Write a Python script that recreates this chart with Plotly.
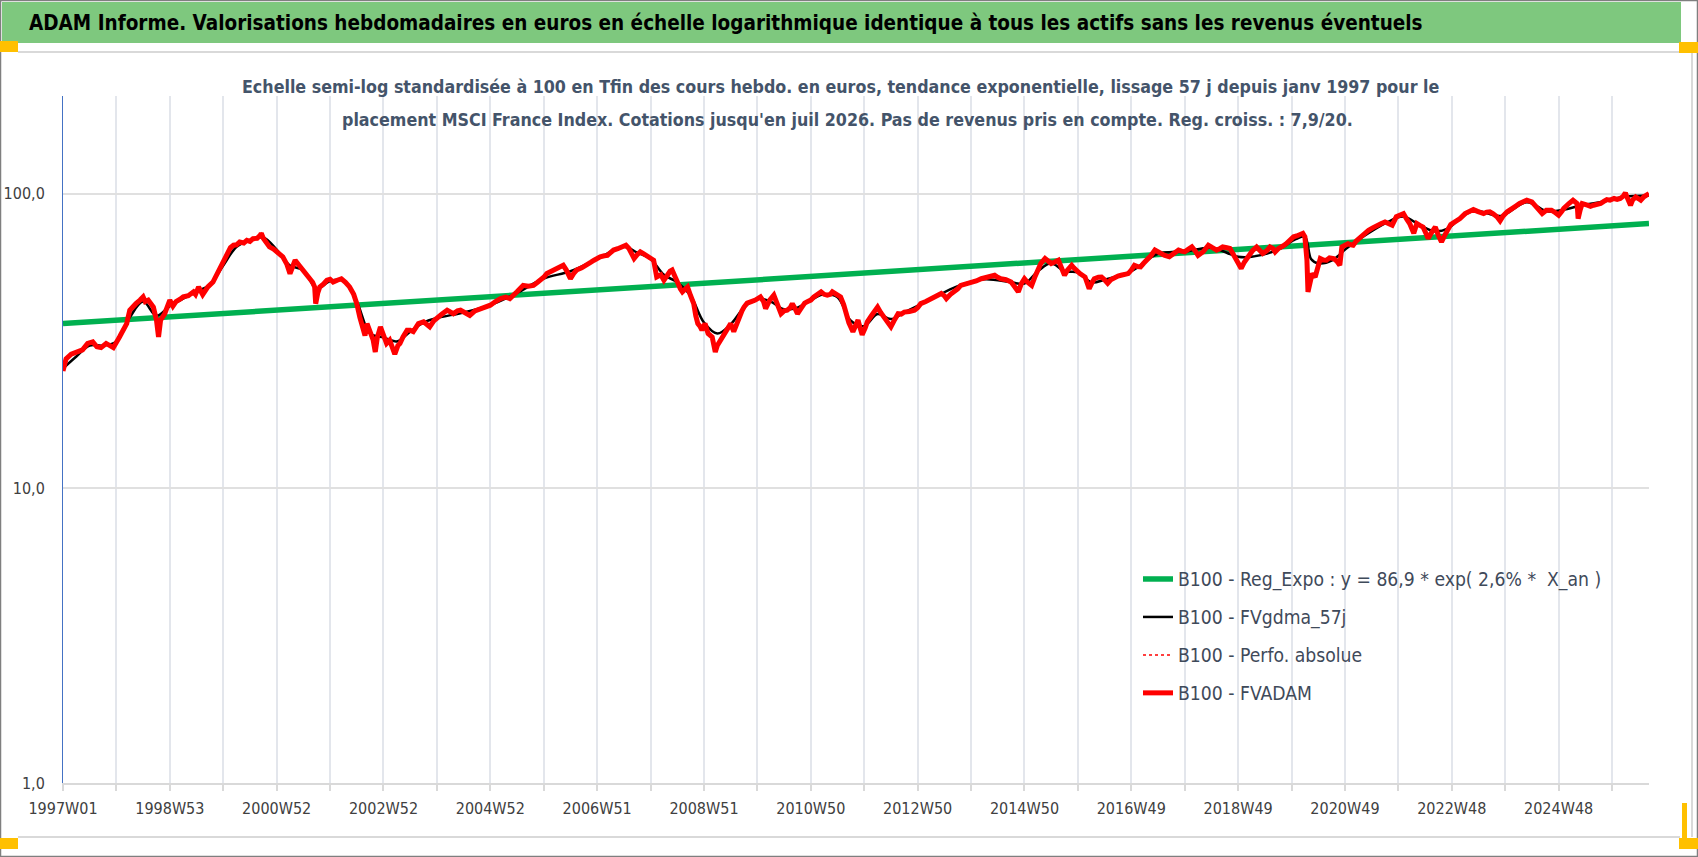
import plotly.graph_objects as go

# ─────────────────────────────────────────────────────────────────────────────
# Data (x = week index counted from 1997W01)

tick_labels = ['1997W01', '1998W53', '2000W52', '2002W52', '2004W52', '2006W51',
               '2008W51', '2010W50', '2012W50', '2014W50', '2016W49', '2018W49',
               '2020W49', '2022W48', '2024W48']

green_weeks = [0, 1544]
green_values = [36.2, 79.1]

red_weeks = [
    0, 3, 8, 14, 19, 24, 29, 33, 37, 42, 46, 49, 55, 59, 62, 65, 68, 71, 75, 78,
    80, 83, 88, 91, 93, 95, 99, 104, 107, 110, 114, 117, 122, 127, 129, 132, 136, 141, 146, 150,
    153, 156, 159, 163, 166, 169, 172, 176, 179, 182, 185, 189, 192, 193, 195, 198, 201, 205, 208, 211,
    214, 218, 221, 224, 226, 230, 234, 237, 240, 243, 245, 246, 248, 250, 254, 257, 260, 263, 267, 271,
    275, 279, 283, 286, 289, 291, 294, 296, 299, 302, 304, 306, 309, 312, 315, 318, 321, 323, 326, 328,
    331, 335, 338, 341, 346, 351, 354, 357, 361, 364, 369, 374, 377, 380, 384, 387, 391, 396, 401, 406,
    411, 416, 421, 426, 431, 435, 442, 445, 448, 453, 458, 462, 465, 468, 471, 476, 481, 484, 487, 490,
    494, 497, 500, 505, 510, 514, 517, 520, 523, 527, 530, 533, 536, 540, 543, 546, 548, 551, 553, 556,
    559, 562, 565, 569, 572, 575, 578, 582, 585, 588, 591, 593, 596, 598, 601, 603, 606, 608, 611, 614,
    616, 618, 620, 622, 625, 628, 632, 634, 635, 637, 640, 643, 645, 648, 650, 653, 656, 658, 661, 663,
    666, 670, 674, 679, 682, 684, 688, 692, 695, 699, 702, 705, 708, 710, 713, 715, 719, 722, 725, 728,
    731, 735, 738, 741, 744, 747, 749, 753, 757, 760, 762, 765, 769, 771, 774, 776, 778, 781, 783, 787,
    790, 793, 796, 800, 803, 806, 809, 813, 816, 819, 824, 829, 832, 835, 840, 845, 850, 855, 858, 860,
    864, 868, 871, 874, 879, 884, 889, 894, 900, 904, 907, 910, 913, 918, 923, 927, 930, 933, 936, 939,
    943, 946, 949, 952, 956, 959, 962, 965, 969, 972, 975, 978, 982, 984, 986, 990, 995, 997, 999, 1002,
    1004, 1008, 1011, 1014, 1017, 1020, 1024, 1027, 1030, 1034, 1037, 1040, 1043, 1046, 1049, 1052, 1055, 1059, 1063, 1066,
    1068, 1072, 1077, 1081, 1086, 1089, 1092, 1095, 1099, 1102, 1105, 1110, 1115, 1119, 1123, 1126, 1129, 1133, 1136, 1139,
    1142, 1145, 1147, 1150, 1155, 1158, 1162, 1165, 1168, 1172, 1175, 1178, 1180, 1183, 1185, 1188, 1191, 1194, 1198, 1201,
    1204, 1207, 1209, 1211, 1212, 1214, 1216, 1219, 1221, 1224, 1227, 1230, 1233, 1237, 1240, 1243, 1245, 1248, 1251, 1254,
    1256, 1259, 1263, 1267, 1271, 1275, 1279, 1283, 1287, 1290, 1294, 1298, 1302, 1305, 1308, 1311, 1315, 1318, 1321, 1324,
    1327, 1329, 1332, 1336, 1339, 1342, 1345, 1347, 1351, 1355, 1360, 1365, 1369, 1373, 1377, 1380, 1383, 1386, 1389, 1392,
    1396, 1399, 1402, 1406, 1410, 1414, 1418, 1422, 1425, 1430, 1433, 1435, 1440, 1444, 1449, 1452, 1456, 1459, 1461, 1466,
    1470, 1474, 1475, 1477, 1479, 1484, 1487, 1490, 1494, 1497, 1500, 1503, 1506, 1510, 1513, 1516, 1519, 1521, 1523, 1526,
    1528, 1531, 1534, 1536, 1539, 1541, 1544,
]
red_values = [
    25.0, 27.5, 28.5, 29.0, 29.5, 31.0, 31.4, 30.2, 30.0, 31.0, 30.5, 30.0, 32.6, 34.5, 36.2, 40.2, 41.0, 42.3, 43.5, 44.6,
    43.0, 43.5, 41.2, 37.2, 32.6, 37.2, 39.1, 43.5, 41.5, 43.0, 43.8, 44.6, 45.0, 46.4, 45.5, 48.2, 45.4, 48.2, 50.1, 53.5,
    56.4, 59.0, 62.6, 65.5, 66.8, 67.0, 68.5, 68.0, 69.4, 68.8, 70.3, 70.5, 72.2, 73.3, 70.5, 68.0, 65.9, 64.8, 63.4, 62.0,
    61.0, 57.5, 53.5, 57.0, 59.4, 57.0, 54.9, 53.5, 51.4, 50.0, 48.2, 42.3, 46.0, 48.2, 49.5, 50.8, 51.2, 50.1, 50.8, 51.4,
    50.0, 48.2, 45.5, 42.3, 38.0, 35.3, 33.0, 36.2, 33.5, 31.8, 29.0, 32.5, 35.3, 33.0, 31.0, 31.8, 29.5, 28.5, 30.5, 31.0,
    32.6, 34.4, 34.4, 34.0, 36.2, 36.7, 36.0, 35.3, 37.0, 37.6, 39.0, 40.2, 39.5, 39.1, 40.0, 40.2, 39.5, 38.6, 40.0, 40.7,
    41.2, 41.8, 43.0, 44.0, 44.5, 44.0, 46.4, 47.5, 48.8, 48.5, 48.8, 50.0, 50.8, 52.0, 53.5, 54.5, 55.7, 56.5, 57.1, 55.0,
    51.4, 53.5, 55.0, 56.0, 57.1, 58.5, 59.4, 60.5, 61.0, 61.5, 61.7, 63.0, 64.3, 65.0, 65.9, 66.5, 66.8, 65.1, 63.0, 60.2,
    62.0, 63.4, 62.5, 61.0, 60.0, 59.4, 52.1, 53.0, 50.8, 52.8, 54.5, 55.0, 52.0, 49.6, 47.5, 46.4, 47.5, 48.2, 45.0, 42.3,
    38.5, 36.2, 35.5, 34.4, 36.2, 33.5, 32.6, 30.5, 29.0, 30.5, 31.8, 33.0, 34.0, 35.5, 36.2, 34.0, 36.5, 38.2, 40.0, 41.2,
    42.5, 43.0, 43.5, 44.6, 43.0, 40.7, 43.5, 45.2, 42.0, 39.1, 40.0, 40.2, 41.0, 42.3, 40.5, 39.1, 41.0, 42.5, 43.0, 43.5,
    44.6, 45.5, 46.4, 45.5, 45.2, 45.5, 46.4, 45.5, 44.6, 42.0, 39.1, 36.5, 34.0, 35.5, 37.2, 35.0, 33.2, 35.0, 36.7, 38.5,
    40.0, 41.2, 39.5, 37.6, 36.0, 35.3, 37.0, 39.1, 39.0, 39.6, 39.8, 40.2, 41.0, 42.3, 43.0, 44.0, 45.0, 45.8, 45.0, 44.0,
    45.5, 46.4, 47.5, 48.8, 49.2, 49.6, 50.5, 51.4, 52.0, 52.5, 52.8, 52.0, 51.4, 51.0, 50.1, 48.0, 46.4, 49.5, 51.4, 50.0,
    48.8, 52.0, 55.7, 58.0, 60.2, 59.0, 57.9, 58.5, 59.4, 56.0, 52.8, 55.0, 57.1, 56.0, 55.0, 53.5, 52.1, 50.0, 47.6, 50.0,
    51.4, 52.0, 52.1, 51.0, 49.6, 51.0, 52.1, 52.5, 52.8, 53.0, 53.5, 55.0, 57.1, 56.5, 56.4, 58.0, 59.4, 61.5, 64.3, 63.5,
    62.6, 61.8, 61.0, 62.5, 64.3, 63.8, 63.4, 64.5, 65.9, 64.0, 61.7, 63.5, 66.8, 65.5, 64.3, 65.0, 65.9, 65.5, 65.1, 62.5,
    59.4, 57.5, 55.7, 58.5, 62.6, 64.0, 65.9, 64.5, 62.6, 64.0, 65.9, 65.0, 63.4, 65.0, 65.9, 66.5, 67.6, 69.5, 71.3, 71.8,
    72.2, 73.3, 71.3, 59.4, 46.4, 50.0, 53.5, 52.1, 56.0, 60.2, 59.5, 59.4, 60.5, 60.2, 59.0, 57.1, 65.9, 66.5, 67.6, 67.0,
    66.8, 69.0, 71.3, 73.0, 75.1, 76.5, 78.1, 79.0, 80.1, 79.0, 78.1, 83.4, 84.5, 85.5, 82.0, 79.1, 73.3, 79.1, 78.0, 77.0,
    73.0, 70.4, 73.5, 77.0, 72.0, 68.5, 72.0, 74.5, 78.5, 80.1, 82.2, 85.5, 87.0, 88.3, 87.0, 86.5, 85.5, 86.5, 86.7, 85.5,
    83.4, 80.8, 84.0, 86.7, 89.0, 90.5, 92.5, 94.0, 94.9, 93.7, 91.0, 89.0, 85.5, 87.8, 87.8, 86.5, 84.4, 87.0, 89.0, 92.5,
    94.9, 92.5, 82.2, 88.0, 92.5, 91.3, 90.5, 91.3, 92.0, 92.5, 94.0, 95.4, 95.0, 96.2, 95.5, 96.2, 98.0, 100.5, 96.5, 91.3,
    95.0, 97.4, 96.0, 94.9, 97.5, 98.7, 100.0,
]

black_weeks = [
    0, 13, 26, 39, 52, 65, 78, 91, 104, 117, 130, 143, 156, 169, 182, 195, 208, 221, 234, 247,
    260, 273, 286, 299, 312, 325, 338, 351, 364, 390, 416, 442, 468, 494, 520, 546, 559, 572, 585, 598,
    611, 624, 637, 650, 663, 676, 689, 702, 715, 728, 741, 754, 767, 780, 793, 806, 819, 845, 871, 897,
    923, 936, 949, 962, 975, 988, 1001, 1014, 1040, 1066, 1092, 1118, 1144, 1157, 1183, 1200, 1209, 1215, 1222, 1236,
    1249, 1262, 1288, 1305, 1320, 1335, 1348, 1361, 1374, 1400, 1425, 1445, 1460, 1480, 1500, 1520, 1544,
]
black_values = [
    25.5, 28.0, 30.5, 30.5, 31.5, 38.0, 43.0, 38.5, 41.5, 44.0, 46.5, 49.0, 57.0, 66.0, 69.5, 71.0, 64.5, 57.0, 55.0, 47.5,
    50.5, 50.5, 43.0, 33.5, 32.5, 31.5, 34.0, 36.5, 37.8, 39.5, 41.8, 46.0, 51.5, 54.5, 60.0, 66.0, 63.0, 60.0, 53.0, 50.0,
    45.0, 36.5, 33.5, 36.0, 41.0, 44.0, 43.0, 40.5, 41.0, 43.5, 45.5, 44.5, 37.0, 35.5, 39.0, 37.5, 39.5, 43.8, 48.5, 51.2,
    50.0, 49.5, 54.5, 58.0, 54.5, 54.0, 50.0, 51.0, 54.5, 62.5, 63.5, 65.5, 61.0, 61.0, 64.5, 70.0, 71.5, 60.0, 58.0, 59.5,
    65.0, 70.0, 79.5, 83.5, 78.5, 74.5, 76.0, 83.0, 87.5, 84.0, 93.5, 87.0, 88.0, 91.5, 94.0, 97.5, 98.5,
]

legend_names = [
    'B100 - Reg_Expo : y = 86,9 * exp( 2,6% *  X_an )',
    'B100 - FVgdma_57j',
    'B100 - Perfo. absolue',
    'B100 - FVADAM',
]

title_text = ('ADAM Informe. Valorisations hebdomadaires en euros en échelle logarithmique '
              'identique à tous les actifs sans les revenus éventuels')
subtitle_1 = ('Echelle semi-log standardisée à 100 en Tfin des cours hebdo. en euros, tendance '
              'exponentielle, lissage 57 j depuis janv 1997 pour le')
subtitle_2 = ("placement MSCI France Index. Cotations jusqu'en juil 2026. Pas de revenus pris en "
              "compte. Reg. croiss. : 7,9/20.")

# ─────────────────────────────────────────────────────────────────────────────
W, H = 1698, 857
L, R, T, B = 63, 1649, 96, 783          # plot area in pixels
FONT = 'Liberation Sans Narrow, DejaVu Sans Condensed, Arial Narrow, sans-serif'


def px(x):
    return (x - L) / (R - L)


def py(y):
    return (B - y) / (B - T)


fig = go.Figure()

# 1) series
fig.add_trace(go.Scatter(x=green_weeks, y=green_values, mode='lines', name=legend_names[0],
                         legendgroup='g1', line=dict(color='#00b050', width=5.5)))
fig.add_trace(go.Scatter(x=black_weeks, y=black_values, mode='lines', name=legend_names[1],
                         legendgroup='g2', line=dict(color='#000000', width=2.5, shape='spline')))
fig.add_trace(go.Scatter(x=red_weeks, y=red_values, mode='lines', name=legend_names[2],
                         legendgroup='g3', line=dict(color='#ff0000', width=1.5, dash='dot')))
fig.add_trace(go.Scatter(x=red_weeks, y=red_values, mode='lines', name=legend_names[3],
                         legendgroup='g4', line=dict(color='#ff0000', width=5)))

# 2) frame, banner, excel-like selection handles
shapes = [
    dict(type='rect', x0=px(2), x1=px(1681), y0=py(2), y1=py(43),
         fillcolor='#7ec87e', line_width=0, layer='below'),
    dict(type='line', x0=px(18), x1=px(1680), y0=py(52), y1=py(52),
         line=dict(color='#d9d9d9', width=2)),
    dict(type='line', x0=px(18), x1=px(1680), y0=py(837), y1=py(837),
         line=dict(color='#d9d9d9', width=2)),
    dict(type='line', x0=px(1692), x1=px(1692), y0=py(52), y1=py(837),
         line=dict(color='#d9d9d9', width=2)),
    dict(type='rect', x0=px(0.5), x1=px(1697.5), y0=py(0.5), y1=py(856.5),
         line=dict(color='#7f7f7f', width=1.5)),
]
for x0, x1, y0, y1 in [(0, 18, 41, 52), (1679, 1698, 42, 53), (0, 18, 838, 849),
                       (1682, 1687, 803, 849), (1679, 1698, 838, 849)]:
    shapes.append(dict(type='rect', x0=px(x0), x1=px(x1), y0=py(y0), y1=py(y1),
                       fillcolor='#ffc000', line_width=0))
for s in shapes:
    s['xref'] = 'paper'
    s['yref'] = 'paper'

annotations = [
    dict(text=title_text, x=px(27), y=py(23), xref='paper', yref='paper',
         xanchor='left', yanchor='middle', showarrow=False,
         font=dict(family=FONT, size=20.5, color='#000000', weight='bold')),
    dict(text=subtitle_1, x=px(840), y=py(87), xref='paper', yref='paper',
         xanchor='center', yanchor='middle', showarrow=False,
         font=dict(family=FONT, size=17.7, color='#44546a', weight='bold')),
    dict(text=subtitle_2, x=px(847), y=py(120), xref='paper', yref='paper',
         xanchor='center', yanchor='middle', showarrow=False,
         font=dict(family=FONT, size=17.7, color='#44546a', weight='bold')),
]

tickvals = list(range(0, 1545, 52))
ticktext = [tick_labels[i // 2] if i % 2 == 0 else '' for i in range(len(tickvals))]

fig.update_layout(
    width=W, height=H,
    margin=dict(l=L, r=W - R, t=T, b=H - B),
    paper_bgcolor='white', plot_bgcolor='white',
    font=dict(family=FONT, color='#404040'),
    shapes=shapes, annotations=annotations,
    hovermode=False,
    showlegend=True,
    legend=dict(x=px(1138), y=py(560), xanchor='left', yanchor='top',
                bgcolor='rgba(0,0,0,0)', tracegroupgap=10,
                font=dict(family=FONT, size=19.2, color='#3f4a5a')),
    xaxis=dict(range=[0, 1544], tickvals=tickvals, ticktext=ticktext, automargin=False,
               showgrid=True, gridcolor='#e3e6ec', gridwidth=1.5,
               showline=True, linecolor='#d9d9d9', linewidth=2,
               ticks='outside', ticklen=6, tickcolor='#d9d9d9', tickwidth=1.5,
               ticklabelstandoff=4, zeroline=False,
               tickfont=dict(family=FONT, size=16, color='#404040')),
    yaxis=dict(type='log', range=[0, 2.331], tickvals=[1, 10, 100], automargin=False,
               ticktext=['1,0', '10,0', '100,0'],
               showgrid=True, gridcolor='#e0e0e0', gridwidth=2,
               showline=True, linecolor='#4472c4', linewidth=1,
               ticks='', ticklabelstandoff=14, zeroline=False,
               tickfont=dict(family=FONT, size=16, color='#404040')),
)

fig.write_html("out.html", config={'displayModeBar': False},
               post_script="document.body.style.margin='0';")
